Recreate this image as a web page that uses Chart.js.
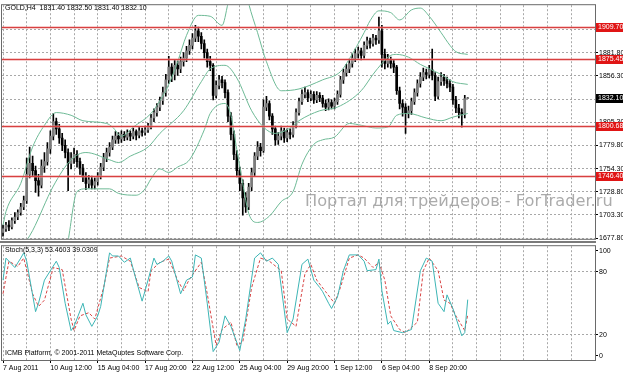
<!DOCTYPE html>
<html>
<head>
<meta charset="utf-8">
<script src="https://cdn.jsdelivr.net/npm/chart.js@4"></script>
<style>
  body { margin: 0; background: #fff; }
  #wrap { position: relative; width: 623px; height: 373px; }
  canvas { position: absolute; left: 0; }
</style>
</head>
<body>
<div id="wrap">
  <canvas id="priceChart" width="623" height="244" style="top:0px"></canvas>
  <canvas id="stochChart" width="623" height="132" style="top:241px"></canvas>
</div>
<script>
// GOLD H4 candles, bar 0 = 7 Aug 2011
var opens = [
  1684,1688,1692,1690,1697,1701,1706,1712,1719,1748,
  1760,1752,1741,1736,1757,1762,1776,1790,1806,1798,
  1788,1780,1772,1760,1766,1770,1762,1755,1745,1738,
  1742,1736,1740,1746,1756,1766,1772,1778,1786,1790,
  1787,1792,1789,1793,1790,1795,1791,1796,1794,1797,
  1800,1810,1816,1822,1829,1838,1852,1866,1858,1868,
  1864,1872,1876,1884,1890,1898,1906,1900,1892,1882,
  1872,1868,1835,1846,1852,1849,1838,1812,1792,1770,
  1752,1738,1722,1712,1734,1750,1768,1778,1774,1822,
  1826,1812,1798,1786,1790,1796,1788,1794,1792,1802,
  1816,1828,1836,1838,1832,1836,1830,1835,1832,1826,
  1822,1827,1823,1828,1836,1852,1860,1864,1870,1876,
  1881,1884,1879,1890,1895,1892,1898,1896,1906,1880,
  1870,1874,1870,1866,1840,1826,1822,1815,1818,1828,
  1838,1848,1855,1860,1858,1863,1857,1834,1850,1855,
  1851,1848,1844,1830,1821,1816,1814,1831.4
];
var highs = [
  1692,1695,1697,1700,1706,1709,1716,1724,1766,1778,
  1768,1757,1748,1764,1772,1783,1796,1815,1810,1803,
  1793,1786,1776,1772,1777,1774,1766,1759,1750,1747,
  1746,1744,1750,1760,1771,1777,1783,1790,1795,1794,
  1796,1795,1797,1796,1799,1797,1800,1799,1801,1804,
  1814,1820,1826,1833,1844,1858,1878,1870,1874,1873,
  1877,1882,1889,1896,1903,1912,1910,1904,1896,1886,
  1878,1870,1851,1857,1856,1852,1841,1816,1796,1774,
  1756,1742,1728,1738,1755,1772,1784,1782,1830,1834,
  1829,1815,1801,1794,1801,1799,1798,1798,1806,1820,
  1832,1841,1844,1841,1840,1839,1839,1838,1835,1830,
  1831,1830,1832,1840,1856,1864,1869,1875,1881,1886,
  1888,1887,1894,1899,1898,1902,1901,1921,1912,1886,
  1880,1877,1874,1868,1844,1830,1826,1823,1832,1842,
  1852,1860,1865,1864,1868,1886,1860,1855,1860,1858,
  1855,1852,1847,1834,1825,1820,1835,1832.5
];
var lows = [
  1680,1685,1686,1688,1694,1698,1703,1709,1716,1744,
  1746,1728,1724,1733,1750,1758,1771,1786,1792,1782,
  1774,1766,1730,1754,1760,1756,1748,1740,1731,1733,
  1732,1732,1736,1743,1752,1762,1768,1775,1782,1782,
  1783,1785,1786,1785,1787,1786,1788,1790,1791,1794,
  1798,1806,1812,1818,1825,1834,1848,1850,1852,1857,
  1860,1867,1872,1880,1886,1894,1894,1886,1876,1866,
  1862,1830,1832,1842,1843,1832,1806,1786,1764,1745,
  1730,1703,1706,1709,1730,1746,1764,1768,1772,1818,
  1808,1792,1780,1781,1786,1783,1784,1787,1789,1799,
  1813,1825,1832,1828,1829,1826,1827,1828,1822,1818,
  1819,1820,1820,1825,1833,1848,1856,1860,1866,1872,
  1876,1874,1876,1886,1887,1889,1891,1892,1866,1864,
  1866,1865,1860,1836,1820,1812,1793,1810,1814,1825,
  1834,1844,1851,1853,1854,1852,1829,1831,1846,1846,
  1843,1839,1825,1816,1810,1800,1810,1831.4
];
var closes = [
  1688,1692,1690,1697,1701,1706,1712,1719,1748,1760,
  1752,1741,1736,1757,1762,1776,1790,1806,1798,1788,
  1780,1772,1760,1766,1770,1762,1755,1745,1738,1742,
  1736,1740,1746,1756,1766,1772,1778,1786,1790,1787,
  1792,1789,1793,1790,1795,1791,1796,1794,1797,1800,
  1810,1816,1822,1829,1838,1852,1866,1858,1868,1864,
  1872,1876,1884,1890,1898,1906,1900,1892,1882,1872,
  1868,1835,1846,1852,1849,1838,1812,1792,1770,1752,
  1738,1722,1712,1734,1750,1768,1778,1774,1822,1826,
  1812,1798,1786,1790,1796,1788,1794,1792,1802,1816,
  1828,1836,1838,1832,1836,1830,1835,1832,1826,1822,
  1827,1823,1828,1836,1852,1860,1864,1870,1876,1881,
  1884,1879,1890,1895,1892,1898,1896,1906,1880,1870,
  1874,1870,1866,1840,1826,1822,1815,1818,1828,1838,
  1848,1855,1860,1858,1863,1857,1834,1850,1855,1851,
  1848,1844,1830,1821,1816,1814,1831.4,1832.1
];

// bollinger bands at some bars
var bbUpperBars = [0,1,6,10,14,18,23,27,35,37,40,44,50,53,56,59,62,66,70,74,76,78,81,83,86,89,94,100,108,114,117,122,124,127,131,134,138,141,144,148,151,153,157];
var bbUpper = [1692,1707,1738,1778,1802,1816,1813,1807,1804,1800,1790,1800,1815,1829,1847,1872,1901,1923,1922,1912,1936,1965,1965,1936,1904,1872,1840,1842,1852,1861,1875,1904,1917,1928,1926,1918,1929,1931,1922,1904,1890,1883,1880];
var bbMiddleBars = [8,10,17,23,28,36,39,43,49,53,61,67,70,75,79,84,88,92,97,100,107,113,121,125,128,131,133,137,141,148,152,157];
var bbMiddle = [1675,1686,1735,1764,1772,1764,1761,1768,1778,1793,1818,1850,1864,1868,1854,1818,1800,1793,1799,1807,1818,1822,1840,1858,1870,1879,1880,1877,1869,1858,1850,1847];
var bbLowerBars = [22,25,28,36,39,45,48,50,53,56,59,63,68,70,75,77,79,81,83,86,90,94,98,101,105,108,112,117,121,126,130,133,137,143,148,152,157];
var bbLower = [1675,1729,1732,1732,1727,1725,1732,1743,1754,1750,1756,1764,1797,1815,1826,1813,1775,1738,1705,1695,1702,1718,1729,1759,1781,1786,1789,1804,1802,1799,1800,1813,1815,1810,1807,1811,1815];

// stochastic (5,3,3)
var stochBars = [0,1,4,6,7,8,11,12,14,16,18,19,21,23,24,27,28,30,32,33,36,37,39,41,43,45,47,49,51,52,54,56,57,60,62,64,65,67,69,71,73,75,77,80,82,85,87,89,91,93,96,98,101,103,105,107,108,110,111,113,115,117,120,122,123,126,127,128,130,131,132,135,138,141,143,145,147,149,150,152,155,156,157];
var stochMain = [72,93,84,93,98,90,42,50,72,81,90,84,50,24,28,50,39,28,38,47,98,95,95,89,93,72,52,72,93,87,90,95,90,59,72,75,96,93,50,4,13,38,28,5,35,93,98,90,93,87,22,35,87,92,72,65,61,50,45,56,81,96,96,90,81,82,92,62,30,33,24,22,25,81,93,90,50,42,58,45,19,22,53.46];
var signalBars = [0,2,5,7,10,12,14,17,20,23,24,26,29,31,34,36,40,43,46,49,50,53,56,59,61,63,67,69,72,74,77,79,81,84,87,90,94,96,99,102,104,106,109,112,114,117,120,122,125,127,129,131,134,136,140,142,144,147,149,151,153,156,157];
var stochSignal = [59,90,85,93,59,47,53,84,82,35,24,38,41,35,65,93,95,90,65,61,81,89,92,72,62,73,89,59,10,25,32,10,13,65,93,90,81,35,28,78,87,72,61,50,65,93,96,93,84,89,72,38,25,22,32,81,93,81,53,50,38,24,39.03];

var priceTicks = [1677.8,1703.3,1728.8,1754.3,1779.8,1805.3,1830.8,1856.3,1881.8,1907.3];
var stochTicks = [0, 20, 80, 100];
var timeLabels = ['7 Aug 2011','10 Aug 12:00','15 Aug 04:00','17 Aug 20:00','22 Aug 12:00','25 Aug 04:00','29 Aug 20:00','1 Sep 12:00','6 Sep 04:00','8 Sep 20:00'];
var levels = [1909.70, 1875.45, 1800.68, 1746.40];
var lastPrice = 1832.10;

Chart.defaults.font.family = 'Liberation Sans';

var bandColor = 'rgb(110,186,150)';
var gridColor = '#a8a8a8';
var font7 = { family: 'Liberation Sans', size: 7 };

function pts(xs, ys) {
  return xs.map(function (x, i) { return { x: x, y: ys[i] }; });
}

// vertical grid every 8 bars, labels every 16
var gridBars = [];
for (var b = 0; b <= 200; b += 8) gridBars.push(b);

var bodies = closes.map(function (c, i) { return { x: i, y: [opens[i], c] }; });
var wicks = highs.map(function (h, i) { return { x: i, y: [lows[i], h] }; });
var bodyColors = closes.map(function (c, i) { return c >= opens[i] ? '#7c7c7c' : '#000'; });

function xScale(showLabels) {
  return {
    type: 'linear', min: -0.34, max: 200, offset: false,
    afterBuildTicks: function (s) { s.ticks = gridBars.map(function (v) { return { value: v }; }); },
    afterFit: function (s) { s.height = showLabels ? 13 : 0; },
    grid: {
      color: gridColor, offset: false, drawTicks: showLabels, tickLength: 3,
      tickColor: function (ctx) {
        var v = ctx.tick ? ctx.tick.value : 1;
        return v % 16 === 0 && v / 16 < timeLabels.length ? '#000' : 'rgba(0,0,0,0)';
      }
    },
    border: { display: false, dash: [2, 2] },
    ticks: {
      display: showLabels, autoSkip: false, maxRotation: 0, minRotation: 0,
      align: 'start', padding: 1, color: '#000', font: font7,
      callback: function (v) { return v % 16 === 0 ? (timeLabels[v / 16] || '') : ''; }
    }
  };
}

function drawText(ctx, txt, x, y) {
  ctx.save();
  ctx.font = '7px "Liberation Sans"';
  ctx.fillStyle = '#000';
  ctx.textBaseline = 'middle';
  ctx.fillText(txt, x, y);
  ctx.restore();
}

function priceBox(ctx, y, txt, fill) {
  ctx.fillStyle = fill;
  ctx.fillRect(596, Math.round(y) - 4, 27, 9);
  ctx.fillStyle = '#fff';
  ctx.font = '7px "Liberation Sans"';
  ctx.textBaseline = 'middle';
  ctx.textAlign = 'left';
  ctx.fillText(txt, 598, Math.round(y) + 0.5);
}

var pricePlugin = {
  id: 'pricePlugin',
  afterDatasetsDraw: function (chart) {
    var ctx = chart.ctx, a = chart.chartArea, ys = chart.scales.y;
    ctx.save();
    levels.forEach(function (lv) {
      var y = Math.round(ys.getPixelForValue(lv)) + 0.5;
      ctx.strokeStyle = 'rgba(235,140,140,0.45)';
      ctx.lineWidth = 3;
      ctx.beginPath(); ctx.moveTo(a.left, y); ctx.lineTo(a.right, y); ctx.stroke();
      ctx.strokeStyle = '#d84040';
      ctx.lineWidth = 1;
      ctx.beginPath(); ctx.moveTo(a.left, y); ctx.lineTo(a.right, y); ctx.stroke();
    });
    ctx.restore();
  },
  afterDraw: function (chart) {
    var ctx = chart.ctx, a = chart.chartArea, ys = chart.scales.y;
    ctx.save();
    ctx.strokeStyle = '#6a6a6a';
    ctx.lineWidth = 1;
    ctx.strokeRect(a.left - 0.5, a.top - 0.5, a.right - a.left + 1, a.bottom - a.top + 1);
    drawText(ctx, 'GOLD,H4  1831.40 1832.50 1831.40 1832.10', 5, 8);
    levels.forEach(function (lv) {
      priceBox(ctx, ys.getPixelForValue(lv), lv.toFixed(2), '#e01515');
    });
    priceBox(ctx, ys.getPixelForValue(lastPrice), lastPrice.toFixed(2), '#000');
    // watermark
    var wm = 'Портал для трейдеров - ForTrader.ru';
    ctx.font = '17px "DejaVu Sans"';
    var w = ctx.measureText(wm).width;
    var size = 17 * 308 / w;
    ctx.font = size.toFixed(1) + 'px "DejaVu Sans"';
    ctx.fillStyle = 'rgba(150,150,150,0.8)';
    ctx.textBaseline = 'alphabetic';
    ctx.fillText(wm, 305, 206);
    ctx.restore();
  }
};

new Chart(document.getElementById('priceChart'), {
  type: 'bar',
  data: {
    datasets: [
      { type: 'line', data: pts(bbUpperBars, bbUpper), borderColor: bandColor, borderWidth: 1, pointRadius: 0, cubicInterpolationMode: 'monotone', order: 1 },
      { type: 'line', data: pts(bbMiddleBars, bbMiddle), borderColor: bandColor, borderWidth: 1, pointRadius: 0, cubicInterpolationMode: 'monotone', order: 1 },
      { type: 'line', data: pts(bbLowerBars, bbLower), borderColor: bandColor, borderWidth: 1, pointRadius: 0, cubicInterpolationMode: 'monotone', order: 1 },
      { data: bodies, backgroundColor: bodyColors, barThickness: 2, grouped: false, order: 2 },
      { data: wicks, backgroundColor: '#000', barThickness: 1, grouped: false, order: 3 }
    ]
  },
  options: {
    responsive: false, animation: false, devicePixelRatio: 1,
    layout: { padding: { left: 2, top: 2, right: 0, bottom: 4 } },
    plugins: { legend: { display: false }, tooltip: { enabled: false } },
    scales: {
      x: xScale(false),
      y: {
        position: 'right', min: 1677, max: 1934.2,
        afterBuildTicks: function (s) { s.ticks = priceTicks.map(function (v) { return { value: v }; }); },
        afterFit: function (s) { s.width = 28; },
        grid: { color: gridColor, tickLength: 3, tickColor: '#000' },
        border: { display: false, dash: [2, 2] },
        ticks: { color: '#000', font: font7, padding: 1, callback: function (v) { return v.toFixed(2); } }
      }
    }
  },
  plugins: [pricePlugin]
});

var stochPlugin = {
  id: 'stochPlugin',
  afterDraw: function (chart) {
    var ctx = chart.ctx, a = chart.chartArea;
    ctx.save();
    ctx.fillStyle = '#7a7a7a';
    ctx.fillRect(0, 0, a.right + 1, 2);
    ctx.strokeStyle = '#6a6a6a';
    ctx.lineWidth = 1;
    ctx.strokeRect(a.left - 0.5, a.top - 0.5, a.right - a.left + 1, a.bottom - a.top + 1);
    drawText(ctx, 'Stoch(5,3,3) 53.4603 39.0309', 5, 9);
    drawText(ctx, 'ICMB Platform, © 2001-2011 MetaQuotes Software Corp.', 5, 112);
    ctx.restore();
  }
};

new Chart(document.getElementById('stochChart'), {
  type: 'line',
  data: {
    datasets: [
      { data: pts(stochBars, stochMain), borderColor: '#3db5b5', borderWidth: 1, pointRadius: 0, tension: 0 },
      { data: pts(signalBars, stochSignal), borderColor: '#d84545', borderWidth: 1, borderDash: [3, 2], pointRadius: 0, tension: 0 }
    ]
  },
  options: {
    responsive: false, animation: false, devicePixelRatio: 1,
    layout: { padding: { left: 2, top: 2, right: 0, bottom: 0 } },
    plugins: { legend: { display: false }, tooltip: { enabled: false } },
    scales: {
      x: xScale(true),
      y: {
        position: 'right', min: -4, max: 104.3,
        afterBuildTicks: function (s) { s.ticks = stochTicks.map(function (v) { return { value: v }; }); },
        afterFit: function (s) { s.width = 28; },
        grid: {
          color: function (ctx) { var v = ctx.tick ? ctx.tick.value : 0; return v === 20 || v === 80 ? gridColor : 'rgba(0,0,0,0)'; },
          tickLength: 3, tickColor: '#000'
        },
        border: { display: false, dash: [2, 2] },
        ticks: { color: '#000', font: font7, padding: 1 }
      }
    }
  },
  plugins: [stochPlugin]
});
</script>
</body>
</html>
